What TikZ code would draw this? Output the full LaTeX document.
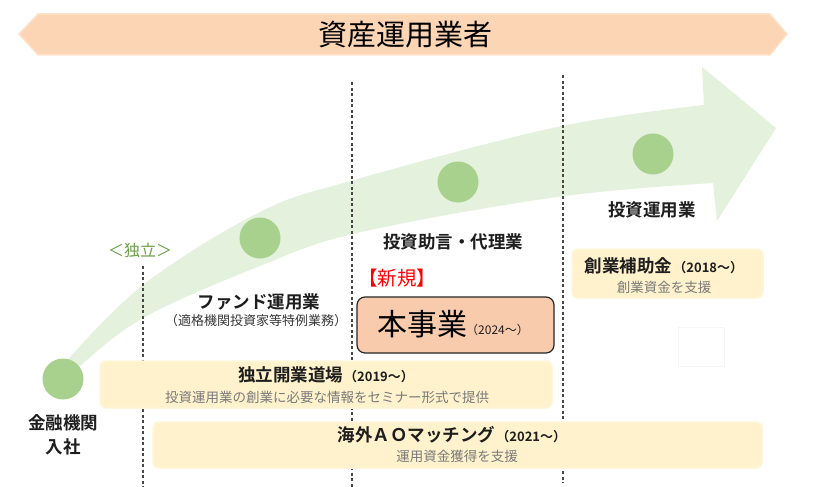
\documentclass[tikz,border=0pt]{standalone}
\usepackage{fontspec}
\setmainfont{Noto Sans CJK JP}[BoldFont={Noto Sans CJK JP Bold}]
\definecolor{banner}{HTML}{FCD5B4}
\definecolor{bannerline}{HTML}{FDE3CC}
\definecolor{bandg}{HTML}{E4F1DC}
\definecolor{dotg}{HTML}{A9D18E}
\definecolor{yfill}{HTML}{FFF2CC}
\definecolor{yline}{HTML}{FFF5D8}
\definecolor{mainfill}{HTML}{F8CBAD}
\definecolor{indgreen}{HTML}{6A9F45}
\definecolor{txt}{HTML}{1E1E1E}
\definecolor{subtxt}{HTML}{7A7A7A}
\newcommand\yrfont{\bfseries\fontsize{13}{15}\selectfont}
\begin{document}
\begin{tikzpicture}[x=1pt,y=-1pt,
  lbl/.style={font=\bfseries\fontsize{17.5}{19}\selectfont, text=txt, inner sep=0},
  subl/.style={font=\fontsize{13.5}{15}\selectfont, text=subtxt, inner sep=0},
  ybox/.style={rounded corners=6pt, fill=yfill, draw=yline, line width=1.5pt, inner sep=0},
  dot/.style={circle, fill=dotg, minimum size=41pt, inner sep=0},
  vdash/.style={draw=black!72, line width=1.1pt, dash pattern=on 3pt off 2.5pt}]
\useasboundingbox (0,0) rectangle (835,487);
\fill[white] (0,0) rectangle (835,487);

% banner
\path[fill=banner, draw=bannerline, line width=1.5pt]
  (19,34) -- (38,14) -- (770,14) -- (787,34) -- (770,55) -- (38,55) -- cycle;
\node[font=\fontsize{29}{31}\selectfont, text=black, inner sep=0] (title) at (405,35) {資産運用業者};

% growth arrow band
\fill[bandg] plot[smooth, tension=0.6] coordinates {(64,364) (143,285) (260,212) (354,180) (557,127) (704,105)}
  -- (702,67) -- (776,128) -- (717,221)
  -- plot[smooth, tension=0.6] coordinates {(713,183) (557,197) (357,233) (260,266) (143,318) (78,368)} -- cycle;

% dashed dividers
\coordinate (d1t) at (143,266); \coordinate (d1b) at (143,487);
\coordinate (d2t) at (352,82);  \coordinate (d2b) at (352,487);
\coordinate (d3t) at (563,75);  \coordinate (d3b) at (563,483);
\draw[vdash] (d1t) -- (d1b);
\draw[vdash] (d2t) -- (d2b);
\draw[vdash] (d3t) -- (d3b);

% milestones
\node[dot] (c1) at (63,379) {};
\node[dot] (c2) at (260,238) {};
\node[dot] (c3) at (458,182) {};
\node[dot] (c4) at (653,154) {};

% labels
\node[lbl] (kinyu) at (63,423) {金融機関};
\node[lbl] (nyusha) at (63,447) {入社};
\node[font=\fontsize{16}{18}\selectfont, text=indgreen, inner sep=0] (indep) at (140,250) {＜独立＞};
\node[lbl] (fund) at (259,302) {ファンド運用業};
\node[font=\fontsize{13}{15}\selectfont, text=black!78, inner sep=0] (fundsub) at (256,321) {（適格機関投資家等特例業務）};
\node[lbl] (advice) at (453,242) {投資助言・代理業};
\node[lbl] (unyo) at (652,210) {投資運用業};
\node[font=\fontsize{19.5}{21}\selectfont, text=red, inner sep=0, anchor=west] (shinki) at (358,278) {【新規】};

% main box
\node[rounded corners=8pt, fill=mainfill, draw=black!85, line width=1.2pt, minimum width=197pt, minimum height=56pt] (mainbox) at (455.5,325) {};
\node[font=\fontsize{30}{32}\selectfont, text=black, inner sep=0, anchor=east] (honjigyo) at (468,324) {本事業};
\node[font=\fontsize{12}{14}\selectfont, text=txt, inner sep=0, anchor=west] (honyear) at (466,330) {（2024～）};

% subsidy box
\node[ybox, minimum width=191pt, minimum height=49pt] (hojobox) at (667.5,273.5) {};
\node[lbl, anchor=base] (hojo) at (664,272) {創業補助金\hspace{1pt}{\yrfont（2018～）}};
\node[subl, font=\fontsize{13.5}{15}\selectfont] (hojosub) at (664,287) {創業資金を支援};

% faint frame
\node[draw=black!4, line width=0.5pt, minimum width=46pt, minimum height=39pt, inner sep=0] (blank) at (701,346.5) {};

% dojo box
\node[ybox, minimum width=452pt, minimum height=47pt] (dojobox) at (326,384.5) {};
\node[lbl, anchor=base] (dojo) at (326,381) {独立開業道場\hspace{1pt}{\yrfont（2019～）}};
\node[subl] (dojosub) at (327,397) {投資運用業の創業に必要な情報をセミナー形式で提供};

% AO box
\node[ybox, minimum width=609pt, minimum height=46pt] (aobox) at (457.5,445) {};
\node[lbl, anchor=base] (ao) at (452,441) {海外ＡＯマッチング\hspace{1pt}{\yrfont（2021～）}};
\node[subl] (aosub) at (457,456) {運用資金獲得を支援};
\end{tikzpicture}
\end{document}
